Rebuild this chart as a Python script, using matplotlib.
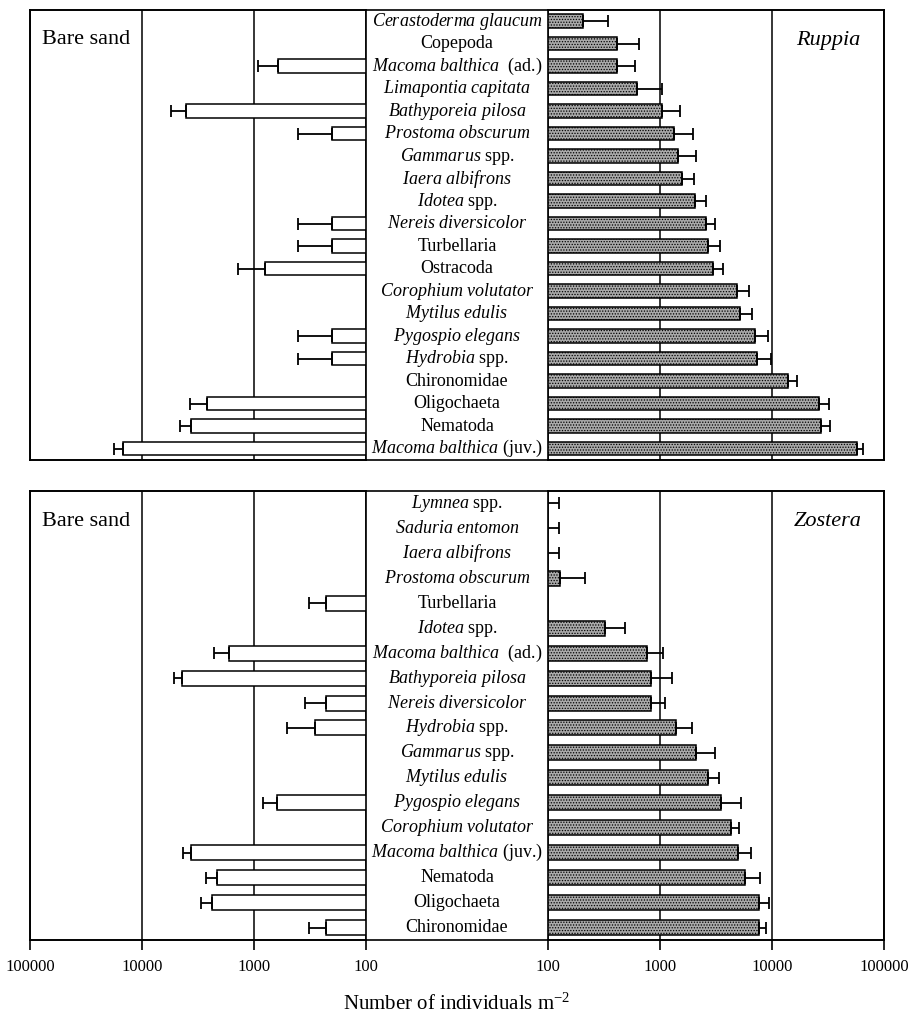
import numpy as np
import matplotlib
matplotlib.use('Agg')
import matplotlib.pyplot as plt

plt.rcParams['font.family'] = 'Liberation Serif'
plt.rcParams['mathtext.fontset'] = 'custom'
plt.rcParams['mathtext.rm'] = 'Liberation Serif'
plt.rcParams['mathtext.it'] = 'Liberation Serif:italic'
plt.rcParams['hatch.linewidth'] = 0.6
plt.rcParams['hatch.color'] = '#333333'

# --- Ruppia panel (top), rows top to bottom ---
ruppia_taxa = ['Cerastoderma glaucum', 'Copepoda', 'Macoma balthica', 'Limapontia capitata',
               'Bathyporeia pilosa', 'Prostoma obscurum', 'Gammarus', 'Iaera albifrons',
               'Idotea', 'Nereis diversicolor', 'Turbellaria', 'Ostracoda',
               'Corophium volutator', 'Mytilus edulis', 'Pygospio elegans', 'Hydrobia',
               'Chironomidae', 'Oligochaeta', 'Nematoda', 'Macoma balthica']
ruppia_suffix = ['', '', '(ad.)', '', '', '', 'spp.', '', 'spp.', '', '', '',
                 '', '', '', 'spp.', '', '', '', '(juv.)']
ruppia_italic = [1, 0, 1, 1, 1, 1, 1, 1, 1, 1, 0, 0, 1, 1, 1, 1, 0, 0, 0, 1]
ruppia_veg = [205, 413, 413, 624, 1040, 1330, 1450, 1560, 2050, 2570, 2680, 3000,
              4870, 5130, 7050, 7400, 13900, 26100, 27600, 57400]
ruppia_veg_err = [343, 650, 600, 1040, 1510, 1970, 2100, 2000, 2560, 3090, 3420, 3660,
                  6240, 6630, 9200, 9860, 16700, 32300, 33000, 65600]
ruppia_sand = [np.nan, np.nan, 610, np.nan, 4050, 200, np.nan, np.nan, np.nan, 200, 200, 800,
               np.nan, np.nan, 200, 200, np.nan, 2630, 3660, 14800]
ruppia_sand_err = [np.nan, np.nan, 920, np.nan, 5500, 405, np.nan, np.nan, np.nan, 405, 405, 1390,
                   np.nan, np.nan, 405, 405, np.nan, 3720, 4580, 17800]

# --- Zostera panel (bottom) ---
zostera_taxa = ['Lymnea', 'Saduria entomon', 'Iaera albifrons', 'Prostoma obscurum',
                'Turbellaria', 'Idotea', 'Macoma balthica', 'Bathyporeia pilosa',
                'Nereis diversicolor', 'Hydrobia', 'Gammarus', 'Mytilus edulis',
                'Pygospio elegans', 'Corophium volutator', 'Macoma balthica', 'Nematoda',
                'Oligochaeta', 'Chironomidae']
zostera_suffix = ['spp.', '', '', '', '', 'spp.', '(ad.)', '', '', 'spp.', 'spp.', '',
                  '', '', '(juv.)', '', '', '']
zostera_italic = [1, 1, 1, 1, 0, 1, 1, 1, 1, 1, 1, 1, 1, 1, 1, 0, 0, 0]
zostera_veg = [50, 50, 50, 127, np.nan, 320, 763, 830, 830, 1390, 2100, 2700,
               3500, 4300, 4950, 5690, 7640, 7640]
zostera_veg_err = [125, 125, 125, 212, np.nan, 487, 1060, 1270, 1100, 1930, 3090, 3350,
                   5340, 5050, 6540, 7780, 9400, 8900]
zostera_sand = [np.nan, np.nan, np.nan, np.nan, 228, np.nan, 1670, 4420, 228, 285, np.nan, np.nan,
                626, np.nan, 3660, 2160, 2390, 228]
zostera_sand_err = [np.nan, np.nan, np.nan, np.nan, 323, np.nan, 2280, 5180, 350, 510, np.nan, np.nan,
                    837, np.nan, 4320, 2680, 2960, 323]

tick_vals = [100, 1000, 10000, 100000]
tick_labels = ['100', '1000', '10000', '100000']

W, H = 912, 1021
fig = plt.figure(figsize=(W / 100, H / 100), dpi=100)


def label_text(name, suffix, italic):
    if italic:
        s = r'$\mathit{' + name.replace(' ', r'\ ') + '}$'
    else:
        s = name
    if suffix == '(ad.)':
        s += '  ' + suffix
    elif suffix:
        s += ' ' + suffix
    return s


def panel(top, bottom, taxa, suffix, italic, veg, veg_err, sand, sand_err, veg_name, show_ticks):
    n = len(taxa)
    yb = 1 - bottom / H
    hh = (bottom - top) / H
    x0, x1, x2, x3 = 30 / W, 366 / W, 548 / W, 884 / W

    frame = fig.add_axes([x0, yb, x3 - x0, hh])
    frame.set_xticks([])
    frame.set_yticks([])
    for s in frame.spines.values():
        s.set_linewidth(1.2)

    y = np.arange(n)
    veg = np.array(veg, float)
    sand = np.array(sand, float)
    veg_e = np.array(veg_err, float) - veg
    sand_e = np.array(sand_err, float) - sand

    axl = fig.add_axes([x0, yb, x1 - x0, hh])
    axr = fig.add_axes([x2, yb, x3 - x2, hh])
    for ax in (axl, axr):
        ax.patch.set_alpha(0)
        ax.set_xscale('log')
        ax.set_ylim(n - 0.5, -0.5)
        ax.set_yticks([])
        for s in ax.spines.values():
            s.set_linewidth(1.2)
        ax.grid(axis='x', which='major', color='black', lw=1.1)
        ax.set_axisbelow(True)
        ax.minorticks_off()
    axl.set_xlim(100000, 100)
    axr.set_xlim(100, 100000)

    axl.barh(y, sand, height=0.6, left=1, color='white', edgecolor='black', lw=1.1, zorder=2)
    axl.errorbar(sand, y, xerr=[np.zeros(n), sand_e], fmt='none', ecolor='black',
                 elinewidth=1.3, capsize=4, capthick=1.3, zorder=3)
    axr.barh(y, veg, height=0.6, left=1, color='#a9a9a9', edgecolor='black', lw=1.1,
             hatch='......', zorder=2)
    axr.errorbar(veg, y, xerr=[np.zeros(n), veg_e], fmt='none', ecolor='black',
                 elinewidth=1.3, capsize=4, capthick=1.3, zorder=3)

    for ax in (axl, axr):
        ax.set_xticks(tick_vals)
        if show_ticks:
            ax.set_xticklabels(tick_labels, fontsize=12)
            ax.tick_params(axis='x', direction='out', length=7, width=1.2, pad=7)
        else:
            ax.tick_params(axis='x', length=0, labelbottom=False)

    # taxon names in the middle column
    for i in range(n):
        fig.text((x1 + x2) / 2, yb + hh * (1 - (i + 0.5) / n), label_text(taxa[i], suffix[i], italic[i]),
                 ha='center', va='center', fontsize=13)

    fig.text(42 / W, 1 - 40 / H - (top - 10) / H, 'Bare sand', fontsize=16, va='center', ha='left')
    fig.text(828 / W, 1 - 40 / H - (top - 10) / H, veg_name, fontsize=16, va='center', ha='center',
             style='italic')


panel(10, 460, ruppia_taxa, ruppia_suffix, ruppia_italic, ruppia_veg, ruppia_veg_err,
      ruppia_sand, ruppia_sand_err, 'Ruppia', False)
panel(491, 940, zostera_taxa, zostera_suffix, zostera_italic, zostera_veg, zostera_veg_err,
      zostera_sand, zostera_sand_err, 'Zostera', True)

fig.text(457 / W, 1 - 1004 / H, 'Number of individuals m$^{-2}$', ha='center', va='center', fontsize=15)

fig.savefig('out.png', dpi=100)
